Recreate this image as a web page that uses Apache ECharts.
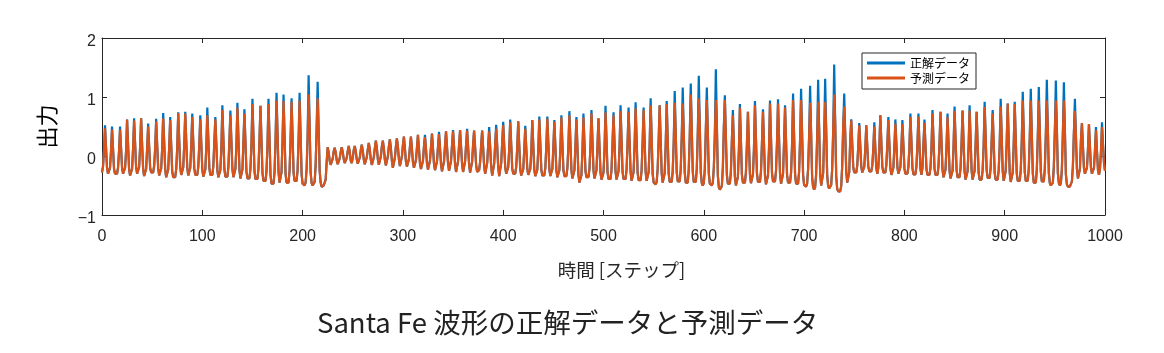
<!DOCTYPE html>
<html>
<head>
<meta charset="utf-8">
<script src="https://cdn.jsdelivr.net/npm/echarts/dist/echarts.min.js"></script>
<style>
  html, body { margin: 0; padding: 0; background: #fff; }
  #santaFe { width: 1164px; height: 353px; }
</style>
</head>
<body>
<div id="santaFe"></div>
<script>
// 正解データ (step 0..1000)
const truth = [
  -0.28, -0.18, 0.10,
  0.52, 0.15, -0.20, -0.30, -0.30, -0.20, 0.09,
  0.50, 0.13, -0.22, -0.30, -0.32, -0.30, -0.20, 0.09,
  0.50, 0.14, -0.20, -0.30, -0.30, -0.20, 0.08,
  0.62, 0.19, -0.22, -0.33, -0.33, -0.22, 0.13,
  0.64, 0.22, -0.19, -0.30, -0.30, -0.19, 0.15,
  0.64, 0.20, -0.22, -0.34, -0.34, -0.22, 0.13,
  0.55, 0.17, -0.20, -0.28, -0.30, -0.28, -0.17, 0.13,
  0.63, 0.20, -0.21, -0.33, -0.33, -0.21, 0.13,
  0.73, 0.24, -0.23, -0.36, -0.36, -0.23, 0.16,
  0.66, 0.19, -0.26, -0.36, -0.38, -0.36, -0.22, 0.14,
  0.74, 0.26, -0.19, -0.32, -0.32, -0.19, 0.19,
  0.75, 0.26, -0.20, -0.33, -0.33, -0.20, 0.19,
  0.72, 0.24, -0.21, -0.32, -0.34, -0.32, -0.18, 0.19,
  0.69, 0.22, -0.23, -0.35, -0.35, -0.23, 0.15,
  0.82, 0.30, -0.20, -0.32, -0.34, -0.32, -0.17, 0.24,
  0.66, 0.20, -0.24, -0.36, -0.36, -0.24, 0.13,
  0.86, 0.31, -0.22, -0.35, -0.37, -0.35, -0.19, 0.25,
  0.77, 0.26, -0.22, -0.36, -0.36, -0.22, 0.18,
  0.90, 0.32, -0.23, -0.38, -0.38, -0.23, 0.23,
  0.79, 0.25, -0.26, -0.38, -0.40, -0.38, -0.22, 0.20,
  0.97, 0.34, -0.25, -0.39, -0.42, -0.39, -0.21, 0.28,
  0.85, 0.27, -0.29, -0.42, -0.45, -0.42, -0.26, 0.20,
  0.97, 0.31, -0.32, -0.47, -0.50, -0.47, -0.28, 0.24,
  1.07, 0.39, -0.27, -0.45, -0.45, -0.27, 0.28,
  1.04, 0.36, -0.30, -0.45, -0.48, -0.45, -0.25, 0.28,
  0.98, 0.34, -0.28, -0.42, -0.45, -0.42, -0.24, 0.27,
  1.07, 0.36, -0.31, -0.47, -0.50, -0.50, -0.45, -0.22, 0.32,
  1.37, 0.53, -0.28, -0.46, -0.50, -0.50, -0.44, -0.16, 0.47,
  1.26, 0.45, -0.25, -0.45, -0.52, -0.52, -0.50, -0.48, -0.40, -0.10,
  0.15, 0.06, -0.08, -0.15, -0.14, -0.05, 0.08,
  0.14, 0.06, -0.07, -0.14, -0.13, -0.04, 0.07,
  0.15, 0.07, -0.05, -0.12, -0.11, -0.03, 0.08,
  0.17, 0.07, -0.08, -0.12, -0.03, 0.10,
  0.17, 0.08, -0.06, -0.13, -0.12, -0.03, 0.10,
  0.19, 0.09, -0.06, -0.14, -0.12, -0.02, 0.11,
  0.22, 0.11, -0.06, -0.15, -0.13, -0.02, 0.13,
  0.26, 0.14, -0.05, -0.15, -0.13, -0.01, 0.16,
  0.26, 0.13, -0.06, -0.16, -0.14, -0.01, 0.16,
  0.28, 0.14, -0.08, -0.20, -0.18, -0.03, 0.16,
  0.30, 0.16, -0.05, -0.17, -0.15, -0.01, 0.18,
  0.33, 0.13, -0.09, -0.18, -0.16, -0.05, 0.15,
  0.33, 0.12, -0.10, -0.20, -0.18, -0.07, 0.14,
  0.36, 0.13, -0.12, -0.22, -0.20, -0.08, 0.16,
  0.36, 0.12, -0.12, -0.23, -0.21, -0.08, 0.15,
  0.38, 0.13, -0.13, -0.24, -0.22, -0.09, 0.16,
  0.41, 0.14, -0.14, -0.26, -0.24, -0.09, 0.18,
  0.42, 0.15, -0.13, -0.25, -0.23, -0.08, 0.19,
  0.44, 0.16, -0.14, -0.27, -0.25, -0.09, 0.19,
  0.44, 0.16, -0.14, -0.27, -0.25, -0.09, 0.19,
  0.46, 0.16, -0.15, -0.28, -0.26, -0.10, 0.20,
  0.43, 0.15, -0.15, -0.27, -0.28, -0.24, -0.10, 0.18,
  0.43, 0.14, -0.17, -0.30, -0.28, -0.12, 0.17,
  0.49, 0.16, -0.18, -0.33, -0.31, -0.13, 0.20,
  0.53, 0.18, -0.18, -0.34, -0.31, -0.12, 0.23,
  0.58, 0.18, -0.19, -0.30, -0.30, -0.19, 0.12,
  0.62, 0.20, -0.21, -0.30, -0.32, -0.30, -0.18, 0.15,
  0.59, 0.18, -0.22, -0.33, -0.33, -0.22, 0.11,
  0.51, 0.14, -0.22, -0.32, -0.32, -0.22, 0.08,
  0.61, 0.18, -0.23, -0.34, -0.34, -0.23, 0.12,
  0.67, 0.21, -0.23, -0.33, -0.35, -0.33, -0.20, 0.16,
  0.67, 0.22, -0.22, -0.34, -0.34, -0.22, 0.14,
  0.61, 0.17, -0.24, -0.36, -0.36, -0.24, 0.11,
  0.69, 0.22, -0.23, -0.34, -0.36, -0.34, -0.20, 0.17,
  0.76, 0.25, -0.24, -0.38, -0.38, -0.24, 0.17,
  0.66, 0.16, -0.32, -0.45, -0.45, -0.32, 0.08,
  0.72, 0.23, -0.25, -0.36, -0.38, -0.36, -0.22, 0.17,
  0.78, 0.26, -0.24, -0.38, -0.38, -0.24, 0.18,
  0.64, 0.17, -0.28, -0.40, -0.40, -0.28, 0.10,
  0.85, 0.28, -0.27, -0.39, -0.42, -0.39, -0.23, 0.22,
  0.74, 0.23, -0.26, -0.40, -0.40, -0.26, 0.15,
  0.86, 0.28, -0.27, -0.39, -0.42, -0.39, -0.23, 0.22,
  0.82, 0.26, -0.27, -0.42, -0.42, -0.27, 0.18,
  0.91, 0.30, -0.28, -0.41, -0.44, -0.41, -0.24, 0.24,
  0.82, 0.26, -0.27, -0.42, -0.42, -0.27, 0.18,
  0.98, 0.32, -0.30, -0.45, -0.48, -0.48, -0.44, -0.22, 0.28,
  0.86, 0.27, -0.29, -0.45, -0.45, -0.29, 0.18,
  0.93, 0.30, -0.30, -0.44, -0.47, -0.44, -0.26, 0.23,
  1.10, 0.40, -0.27, -0.43, -0.46, -0.43, -0.23, 0.32,
  1.16, 0.42, -0.28, -0.45, -0.48, -0.45, -0.23, 0.34,
  1.23, 0.47, -0.27, -0.44, -0.47, -0.44, -0.22, 0.38,
  1.36, 0.52, -0.28, -0.46, -0.50, -0.46, -0.22, 0.43,
  1.16, 0.41, -0.30, -0.47, -0.50, -0.50, -0.45, -0.20, 0.36,
  1.47, 0.55, -0.33, -0.53, -0.57, -0.57, -0.51, -0.20, 0.49,
  1.03, 0.34, -0.32, -0.47, -0.50, -0.47, -0.27, 0.27,
  0.78, 0.20, -0.35, -0.50, -0.50, -0.35, 0.11,
  0.88, 0.27, -0.32, -0.45, -0.48, -0.45, -0.28, 0.20,
  0.75, 0.21, -0.31, -0.46, -0.46, -0.31, 0.12,
  0.93, 0.30, -0.30, -0.44, -0.47, -0.44, -0.26, 0.23,
  0.79, 0.22, -0.33, -0.48, -0.48, -0.33, 0.13,
  0.94, 0.31, -0.29, -0.43, -0.46, -0.43, -0.25, 0.24,
  0.96, 0.32, -0.30, -0.47, -0.47, -0.30, 0.22,
  0.86, 0.26, -0.32, -0.45, -0.48, -0.45, -0.28, 0.19,
  1.06, 0.36, -0.31, -0.47, -0.50, -0.47, -0.27, 0.28,
  1.14, 0.39, -0.32, -0.49, -0.52, -0.52, -0.47, -0.22, 0.34,
  1.19, 0.40, -0.36, -0.53, -0.57, -0.53, -0.31, 0.31,
  1.29, 0.48, -0.29, -0.50, -0.50, -0.29, 0.36,
  1.31, 0.47, -0.33, -0.51, -0.55, -0.55, -0.49, -0.22, 0.42,
  1.55, 0.58, -0.34, -0.56, -0.60, -0.60, -0.60, -0.51, -0.17, 0.52,
  1.06, 0.38, -0.27, -0.45, -0.45, -0.27, 0.27,
  0.62, 0.21, -0.19, -0.28, -0.30, -0.28, -0.16, 0.16,
  0.56, 0.18, -0.18, -0.28, -0.28, -0.18, 0.12,
  0.52, 0.16, -0.18, -0.26, -0.28, -0.26, -0.16, 0.12,
  0.57, 0.14, -0.21, -0.30, -0.20, 0.14,
  0.69, 0.24, -0.18, -0.28, -0.30, -0.28, -0.15, 0.20,
  0.66, 0.22, -0.20, -0.32, -0.32, -0.20, 0.15,
  0.62, 0.21, -0.19, -0.30, -0.30, -0.19, 0.14,
  0.61, 0.19, -0.21, -0.30, -0.32, -0.30, -0.18, 0.15,
  0.72, 0.25, -0.20, -0.31, -0.33, -0.31, -0.17, 0.20,
  0.72, 0.20, -0.22, -0.32, -0.20, 0.20,
  0.62, 0.19, -0.22, -0.32, -0.34, -0.32, -0.20, 0.14,
  0.78, 0.28, -0.21, -0.32, -0.34, -0.32, -0.17, 0.22,
  0.75, 0.25, -0.23, -0.36, -0.36, -0.23, 0.17,
  0.72, 0.23, -0.25, -0.38, -0.38, -0.25, 0.15,
  0.84, 0.29, -0.23, -0.36, -0.38, -0.36, -0.20, 0.23,
  0.77, 0.24, -0.26, -0.40, -0.40, -0.26, 0.16,
  0.86, 0.29, -0.25, -0.40, -0.40, -0.25, 0.20,
  0.75, 0.22, -0.28, -0.40, -0.42, -0.40, -0.24, 0.17,
  0.92, 0.33, -0.24, -0.37, -0.40, -0.37, -0.20, 0.26,
  0.78, 0.24, -0.28, -0.40, -0.42, -0.40, -0.24, 0.18,
  0.97, 0.34, -0.25, -0.42, -0.42, -0.25, 0.25,
  0.89, 0.29, -0.28, -0.44, -0.44, -0.28, 0.20,
  0.92, 0.30, -0.29, -0.42, -0.45, -0.42, -0.24, 0.24,
  1.09, 0.40, -0.27, -0.42, -0.45, -0.42, -0.22, 0.32,
  1.14, 0.41, -0.29, -0.45, -0.48, -0.45, -0.24, 0.33,
  1.17, 0.44, -0.26, -0.43, -0.46, -0.43, -0.22, 0.36,
  1.29, 0.48, -0.29, -0.46, -0.50, -0.50, -0.45, -0.18, 0.43,
  1.28, 0.48, -0.29, -0.46, -0.50, -0.46, -0.23, 0.39,
  1.25, 0.45, -0.31, -0.48, -0.52, -0.52, -0.52, -0.52, -0.43, -0.17, 0.40,
  0.97, 0.36, -0.22, -0.38, -0.38, -0.22, 0.27,
  0.56, 0.17, -0.20, -0.30, -0.30, -0.20, 0.11,
  0.54, 0.16, -0.20, -0.30, -0.30, -0.20, 0.10,
  0.49, 0.09, -0.24, -0.32, -0.22, 0.09,
  0.57, 0.20, -0.12, -0.25
];

// 予測データ (step 0..1000)
const predicted = [
  -0.28, -0.18, 0.10,
  0.47, 0.15, -0.20, -0.30, -0.30, -0.20, 0.09,
  0.45, 0.13, -0.22, -0.30, -0.32, -0.30, -0.20, 0.09,
  0.45, 0.14, -0.20, -0.30, -0.30, -0.20, 0.08,
  0.62, 0.19, -0.22, -0.33, -0.33, -0.22, 0.13,
  0.60, 0.22, -0.19, -0.30, -0.30, -0.19, 0.15,
  0.64, 0.20, -0.22, -0.34, -0.34, -0.22, 0.13,
  0.50, 0.17, -0.20, -0.28, -0.30, -0.28, -0.17, 0.13,
  0.59, 0.20, -0.21, -0.33, -0.33, -0.21, 0.13,
  0.64, 0.24, -0.23, -0.36, -0.36, -0.23, 0.16,
  0.61, 0.19, -0.26, -0.36, -0.38, -0.36, -0.22, 0.14,
  0.73, 0.26, -0.19, -0.32, -0.32, -0.19, 0.19,
  0.72, 0.26, -0.20, -0.33, -0.33, -0.20, 0.19,
  0.66, 0.24, -0.21, -0.32, -0.34, -0.32, -0.18, 0.19,
  0.62, 0.22, -0.23, -0.35, -0.35, -0.23, 0.15,
  0.69, 0.30, -0.20, -0.32, -0.34, -0.32, -0.17, 0.24,
  0.62, 0.20, -0.24, -0.36, -0.36, -0.24, 0.13,
  0.78, 0.31, -0.22, -0.35, -0.37, -0.35, -0.19, 0.25,
  0.69, 0.26, -0.22, -0.36, -0.36, -0.22, 0.18,
  0.82, 0.32, -0.23, -0.38, -0.38, -0.23, 0.23,
  0.72, 0.25, -0.26, -0.38, -0.40, -0.38, -0.22, 0.20,
  0.88, 0.34, -0.25, -0.39, -0.42, -0.39, -0.21, 0.28,
  0.85, 0.27, -0.29, -0.42, -0.45, -0.42, -0.26, 0.20,
  0.88, 0.31, -0.32, -0.47, -0.50, -0.47, -0.28, 0.24,
  0.94, 0.39, -0.27, -0.45, -0.45, -0.27, 0.28,
  0.93, 0.36, -0.30, -0.45, -0.48, -0.45, -0.25, 0.28,
  0.92, 0.34, -0.28, -0.42, -0.45, -0.42, -0.24, 0.27,
  0.94, 0.36, -0.31, -0.47, -0.50, -0.50, -0.45, -0.22, 0.32,
  1.04, 0.53, -0.28, -0.46, -0.50, -0.50, -0.44, -0.16, 0.47,
  0.98, 0.45, -0.25, -0.45, -0.52, -0.52, -0.50, -0.48, -0.40, -0.10,
  0.15, 0.06, -0.08, -0.15, -0.14, -0.05, 0.08,
  0.14, 0.06, -0.07, -0.14, -0.13, -0.04, 0.07,
  0.15, 0.07, -0.05, -0.12, -0.11, -0.03, 0.08,
  0.17, 0.07, -0.08, -0.12, -0.03, 0.10,
  0.17, 0.08, -0.06, -0.13, -0.12, -0.03, 0.10,
  0.19, 0.09, -0.06, -0.14, -0.12, -0.02, 0.11,
  0.22, 0.11, -0.06, -0.15, -0.13, -0.02, 0.13,
  0.26, 0.14, -0.05, -0.15, -0.13, -0.01, 0.16,
  0.26, 0.13, -0.06, -0.16, -0.14, -0.01, 0.16,
  0.28, 0.14, -0.08, -0.20, -0.18, -0.03, 0.16,
  0.30, 0.16, -0.05, -0.17, -0.15, -0.01, 0.18,
  0.33, 0.13, -0.09, -0.18, -0.16, -0.05, 0.15,
  0.33, 0.12, -0.10, -0.20, -0.18, -0.07, 0.14,
  0.36, 0.13, -0.12, -0.22, -0.20, -0.08, 0.16,
  0.32, 0.12, -0.12, -0.23, -0.21, -0.08, 0.15,
  0.38, 0.13, -0.13, -0.24, -0.22, -0.09, 0.16,
  0.37, 0.14, -0.14, -0.26, -0.24, -0.09, 0.18,
  0.42, 0.15, -0.13, -0.25, -0.23, -0.08, 0.19,
  0.42, 0.16, -0.14, -0.27, -0.25, -0.09, 0.19,
  0.44, 0.16, -0.14, -0.27, -0.25, -0.09, 0.19,
  0.43, 0.16, -0.15, -0.28, -0.26, -0.10, 0.20,
  0.43, 0.15, -0.15, -0.27, -0.28, -0.24, -0.10, 0.18,
  0.43, 0.14, -0.17, -0.30, -0.28, -0.12, 0.17,
  0.42, 0.16, -0.18, -0.33, -0.31, -0.13, 0.20,
  0.46, 0.18, -0.18, -0.34, -0.31, -0.12, 0.23,
  0.52, 0.18, -0.19, -0.30, -0.30, -0.19, 0.12,
  0.57, 0.20, -0.21, -0.30, -0.32, -0.30, -0.18, 0.15,
  0.59, 0.18, -0.22, -0.33, -0.33, -0.22, 0.11,
  0.46, 0.14, -0.22, -0.32, -0.32, -0.22, 0.08,
  0.61, 0.18, -0.23, -0.34, -0.34, -0.23, 0.12,
  0.62, 0.21, -0.23, -0.33, -0.35, -0.33, -0.20, 0.16,
  0.63, 0.22, -0.22, -0.34, -0.34, -0.22, 0.14,
  0.58, 0.17, -0.24, -0.36, -0.36, -0.24, 0.11,
  0.65, 0.22, -0.23, -0.34, -0.36, -0.34, -0.20, 0.17,
  0.69, 0.25, -0.24, -0.38, -0.38, -0.24, 0.17,
  0.62, 0.16, -0.32, -0.45, -0.45, -0.32, 0.08,
  0.65, 0.23, -0.25, -0.36, -0.38, -0.36, -0.22, 0.17,
  0.72, 0.26, -0.24, -0.38, -0.38, -0.24, 0.18,
  0.64, 0.17, -0.28, -0.40, -0.40, -0.28, 0.10,
  0.74, 0.28, -0.27, -0.39, -0.42, -0.39, -0.23, 0.22,
  0.69, 0.23, -0.26, -0.40, -0.40, -0.26, 0.15,
  0.76, 0.28, -0.27, -0.39, -0.42, -0.39, -0.23, 0.22,
  0.75, 0.26, -0.27, -0.42, -0.42, -0.27, 0.18,
  0.81, 0.30, -0.28, -0.41, -0.44, -0.41, -0.24, 0.24,
  0.78, 0.26, -0.27, -0.42, -0.42, -0.27, 0.18,
  0.86, 0.32, -0.30, -0.45, -0.48, -0.48, -0.44, -0.22, 0.28,
  0.86, 0.27, -0.29, -0.45, -0.45, -0.29, 0.18,
  0.88, 0.30, -0.30, -0.44, -0.47, -0.44, -0.26, 0.23,
  0.90, 0.40, -0.27, -0.43, -0.46, -0.43, -0.23, 0.32,
  0.89, 0.42, -0.28, -0.45, -0.48, -0.45, -0.23, 0.34,
  1.04, 0.47, -0.27, -0.44, -0.47, -0.44, -0.22, 0.38,
  0.98, 0.52, -0.28, -0.46, -0.50, -0.46, -0.22, 0.43,
  0.95, 0.41, -0.30, -0.47, -0.50, -0.50, -0.45, -0.20, 0.36,
  0.95, 0.55, -0.33, -0.53, -0.57, -0.57, -0.51, -0.20, 0.49,
  0.95, 0.34, -0.32, -0.47, -0.50, -0.47, -0.27, 0.27,
  0.69, 0.20, -0.35, -0.50, -0.50, -0.35, 0.11,
  0.82, 0.27, -0.32, -0.45, -0.48, -0.45, -0.28, 0.20,
  0.75, 0.21, -0.31, -0.46, -0.46, -0.31, 0.12,
  0.86, 0.30, -0.30, -0.44, -0.47, -0.44, -0.26, 0.23,
  0.75, 0.22, -0.33, -0.48, -0.48, -0.33, 0.13,
  0.89, 0.31, -0.29, -0.43, -0.46, -0.43, -0.25, 0.24,
  0.89, 0.32, -0.30, -0.47, -0.47, -0.30, 0.22,
  0.82, 0.26, -0.32, -0.45, -0.48, -0.45, -0.28, 0.19,
  0.95, 0.36, -0.31, -0.47, -0.50, -0.47, -0.27, 0.28,
  0.95, 0.39, -0.32, -0.49, -0.52, -0.52, -0.47, -0.22, 0.34,
  0.90, 0.40, -0.36, -0.53, -0.57, -0.53, -0.31, 0.31,
  0.92, 0.48, -0.29, -0.50, -0.50, -0.29, 0.36,
  0.92, 0.47, -0.33, -0.51, -0.55, -0.55, -0.49, -0.22, 0.42,
  1.04, 0.58, -0.34, -0.56, -0.60, -0.60, -0.60, -0.51, -0.17, 0.52,
  0.84, 0.38, -0.27, -0.45, -0.45, -0.27, 0.27,
  0.60, 0.21, -0.19, -0.28, -0.30, -0.28, -0.16, 0.16,
  0.52, 0.18, -0.18, -0.28, -0.28, -0.18, 0.12,
  0.52, 0.16, -0.18, -0.26, -0.28, -0.26, -0.16, 0.12,
  0.50, 0.14, -0.21, -0.30, -0.20, 0.14,
  0.69, 0.24, -0.18, -0.28, -0.30, -0.28, -0.15, 0.20,
  0.61, 0.22, -0.20, -0.32, -0.32, -0.20, 0.15,
  0.55, 0.21, -0.19, -0.30, -0.30, -0.19, 0.14,
  0.54, 0.19, -0.21, -0.30, -0.32, -0.30, -0.18, 0.15,
  0.66, 0.25, -0.20, -0.31, -0.33, -0.31, -0.17, 0.20,
  0.67, 0.20, -0.22, -0.32, -0.20, 0.20,
  0.56, 0.19, -0.22, -0.32, -0.34, -0.32, -0.20, 0.14,
  0.72, 0.28, -0.21, -0.32, -0.34, -0.32, -0.17, 0.22,
  0.75, 0.25, -0.23, -0.36, -0.36, -0.23, 0.17,
  0.66, 0.23, -0.25, -0.38, -0.38, -0.25, 0.15,
  0.76, 0.29, -0.23, -0.36, -0.38, -0.36, -0.20, 0.23,
  0.77, 0.24, -0.26, -0.40, -0.40, -0.26, 0.16,
  0.77, 0.29, -0.25, -0.40, -0.40, -0.25, 0.20,
  0.75, 0.22, -0.28, -0.40, -0.42, -0.40, -0.24, 0.17,
  0.83, 0.33, -0.24, -0.37, -0.40, -0.37, -0.20, 0.26,
  0.72, 0.24, -0.28, -0.40, -0.42, -0.40, -0.24, 0.18,
  0.84, 0.34, -0.25, -0.42, -0.42, -0.25, 0.25,
  0.89, 0.29, -0.28, -0.44, -0.44, -0.28, 0.20,
  0.88, 0.30, -0.29, -0.42, -0.45, -0.42, -0.24, 0.24,
  0.94, 0.40, -0.27, -0.42, -0.45, -0.42, -0.22, 0.32,
  0.94, 0.41, -0.29, -0.45, -0.48, -0.45, -0.24, 0.33,
  0.94, 0.44, -0.26, -0.43, -0.46, -0.43, -0.22, 0.36,
  0.94, 0.48, -0.29, -0.46, -0.50, -0.50, -0.45, -0.18, 0.43,
  0.94, 0.48, -0.29, -0.46, -0.50, -0.46, -0.23, 0.39,
  0.94, 0.45, -0.31, -0.48, -0.52, -0.52, -0.52, -0.52, -0.43, -0.17, 0.40,
  0.76, 0.36, -0.22, -0.38, -0.38, -0.22, 0.27,
  0.56, 0.17, -0.20, -0.30, -0.30, -0.20, 0.11,
  0.54, 0.16, -0.20, -0.30, -0.30, -0.20, 0.10,
  0.44, 0.09, -0.24, -0.32, -0.22, 0.09,
  0.49, 0.20, -0.12, -0.25
];

const xTicks = [0, 1000, 100];   // min, max, interval
const yTicks = [-1, 2, 1];

const seriesNames = ["正解データ", "予測データ"];
const seriesColors = ["#0072BD", "#D95319"];

const latin = "'Liberation Sans', 'Noto Sans CJK JP', sans-serif";
const cjk = "'Noto Sans CJK JP', sans-serif";
const axisColor = "#262626";

const chart = echarts.init(document.getElementById("santaFe"), null, { renderer: "canvas" });

const toPairs = arr => arr.map((v, i) => [i, v]);

const baseX = {
  type: "value",
  min: xTicks[0],
  max: xTicks[1],
  interval: xTicks[2],
  axisLine: { show: true, onZero: false, lineStyle: { color: axisColor, width: 1 } },
  axisTick: { inside: true, length: 5, lineStyle: { color: axisColor } },
  splitLine: { show: false }
};
const baseY = {
  type: "value",
  min: yTicks[0],
  max: yTicks[1],
  interval: yTicks[2],
  axisLine: { show: true, onZero: false, lineStyle: { color: axisColor, width: 1 } },
  axisTick: { inside: true, length: 5, lineStyle: { color: axisColor } },
  splitLine: { show: false }
};

let option = {
  animation: false,
  backgroundColor: "#fff",
  title: {
    text: "Santa Fe 波形の正解データと予測データ",
    left: 312,
    top: 304,
    textStyle: { fontFamily: cjk, fontSize: 27.5, fontWeight: "normal", color: "#222" }
  },
  legend: {
    orient: "vertical",
    left: 862,
    top: 53,
    padding: [4, 6, 5, 5],
    itemGap: 3,
    itemWidth: 38,
    itemHeight: 3,
    icon: "rect",
    backgroundColor: "#fff",
    borderColor: axisColor,
    borderWidth: 1,
    borderRadius: 0,
    textStyle: { fontFamily: cjk, fontSize: 12, color: "#000", padding: [0, 0, 0, 0] },
    data: seriesNames
  },
  grid: { left: 102, top: 38, width: 1003, height: 177, show: false },
  xAxis: [
    Object.assign({}, baseX, {
      position: "bottom",
      name: "時間 [ステップ]",
      nameLocation: "middle",
      nameGap: 46,
      nameTextStyle: { fontFamily: cjk, fontSize: 18.5, color: axisColor, padding: [0, 0, 0, 36] },
      axisLabel: { fontFamily: latin, fontSize: 16, color: axisColor, margin: 14, formatter: v => String(v) }
    }),
    Object.assign({}, baseX, { position: "top", axisLabel: { show: false } })
  ],
  yAxis: [
    Object.assign({}, baseY, {
      position: "left",
      name: "出力",
      nameLocation: "middle",
      nameRotate: 90,
      nameGap: 44,
      nameTextStyle: { fontFamily: cjk, fontSize: 22, color: "#000" },
      axisLabel: {
        fontFamily: latin, fontSize: 16, color: axisColor, margin: 6,
        verticalAlign: "top", lineHeight: 8,
        formatter: v => String(v).replace("-", "\u2212")
      }
    }),
    Object.assign({}, baseY, { position: "right", axisLabel: { show: false } })
  ],
  series: [
    {
      name: seriesNames[0],
      type: "line",
      xAxisIndex: 0,
      yAxisIndex: 0,
      data: toPairs(truth),
      showSymbol: false,
      symbol: "none",
      color: seriesColors[0],
      lineStyle: { width: 2.2, color: seriesColors[0] }
    },
    {
      name: seriesNames[1],
      type: "line",
      xAxisIndex: 0,
      yAxisIndex: 0,
      data: toPairs(predicted),
      showSymbol: false,
      symbol: "none",
      color: seriesColors[1],
      lineStyle: { width: 2.2, color: seriesColors[1] }
    }
  ]
};

chart.setOption(option);
</script>
</body>
</html>
